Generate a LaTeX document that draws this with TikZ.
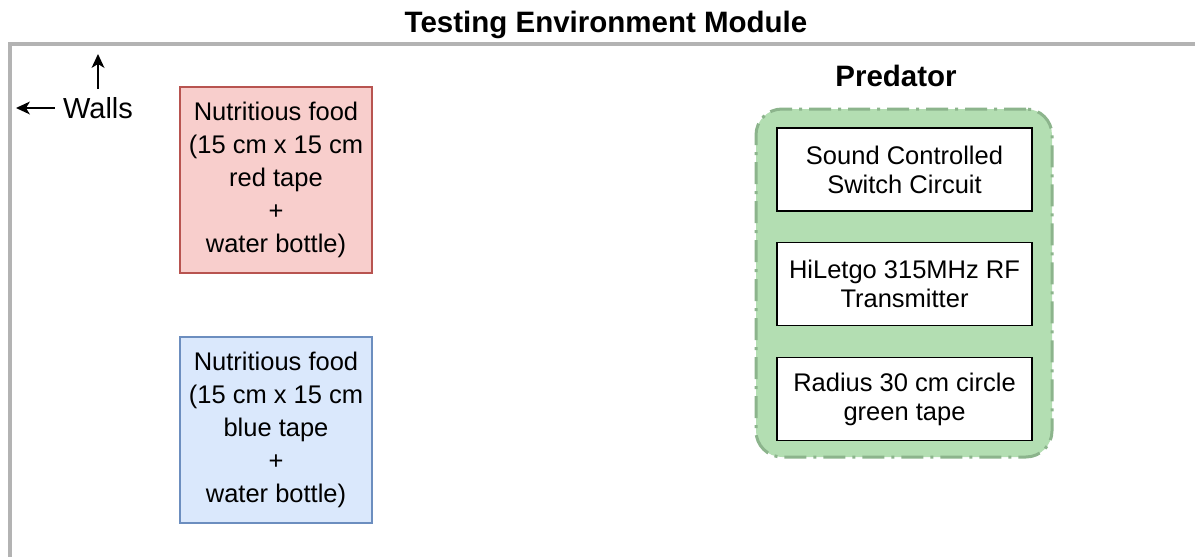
\documentclass[tikz,border=0pt]{standalone}
\usepackage{fontspec}
\setmainfont{Liberation Sans}
\usepackage{xcolor}
\usetikzlibrary{arrows.meta,positioning}
\definecolor{wallgray}{RGB}{179,179,179}
\definecolor{redfill}{RGB}{248,206,204}
\definecolor{redline}{RGB}{184,84,80}
\definecolor{bluefill}{RGB}{218,232,252}
\definecolor{blueline}{RGB}{108,142,191}
\definecolor{greenfill}{RGB}{179,222,178}
\definecolor{greenline}{RGB}{140,180,140}

\begin{document}
\begin{tikzpicture}[x=1pt, y=-1pt,
  food/.style={draw, line width=1.5pt, align=center, minimum width=192pt, minimum height=186pt,
    font=\fontsize{25.5}{33}\selectfont},
  part/.style={draw=black, fill=white, line width=1.5pt, align=center, minimum width=255pt,
    minimum height=83pt, inner sep=0pt, font=\fontsize{25.5}{29}\selectfont},
  group/.style={draw=greenline, fill=greenfill, line width=3pt, rounded corners=26pt,
    dash pattern=on 22pt off 7pt on 3pt off 7pt, minimum width=296pt, minimum height=348pt},
  heading/.style={font=\fontsize{29.5}{34}\selectfont\bfseries},
  wallarrow/.style={line width=2pt, -{Stealth[length=14pt, width=13pt, inset=4pt, line width=0pt]}}
]
\useasboundingbox (0,0) rectangle (1195,557);

% walls of the arena
\draw[wallgray, line width=4pt] (10,557) -- (10,44) -- (1195,44);
\node[heading] (title) at (606,25) {Testing Environment Module};

\node[font=\fontsize{29}{34}\selectfont, inner sep=0pt] (walls) at (98,108) {Walls};
\coordinate (wallleft) at (16,108);
\coordinate (walltop) at (98,54);
\draw[wallarrow] ([xshift=-8pt]walls.west) -- (wallleft);
\draw[wallarrow] ([yshift=8pt]walls.north) -- (walltop);

% food sources
\node[food, fill=redfill, draw=redline] (redfood) at (276,180)
  {Nutritious food\\(15 cm x 15 cm\\red tape\\+\\water bottle)};
\node[food, fill=bluefill, draw=blueline] (bluefood) at (276,430)
  {Nutritious food\\(15 cm x 15 cm\\blue tape\\+\\water bottle)};

% predator robot
\node[group] (predator) at (904,283) {};
\node[heading] (predlabel) at (896,76) {Predator};
\node[part] (sound) at (904.5,169.5) {Sound Controlled\\Switch Circuit};
\node[part] (rf) at (904.5,284) {HiLetgo 315MHz RF\\Transmitter};
\node[part] (circle) at (904.5,399) {Radius 30 cm circle\\green tape};
\end{tikzpicture}
\end{document}
